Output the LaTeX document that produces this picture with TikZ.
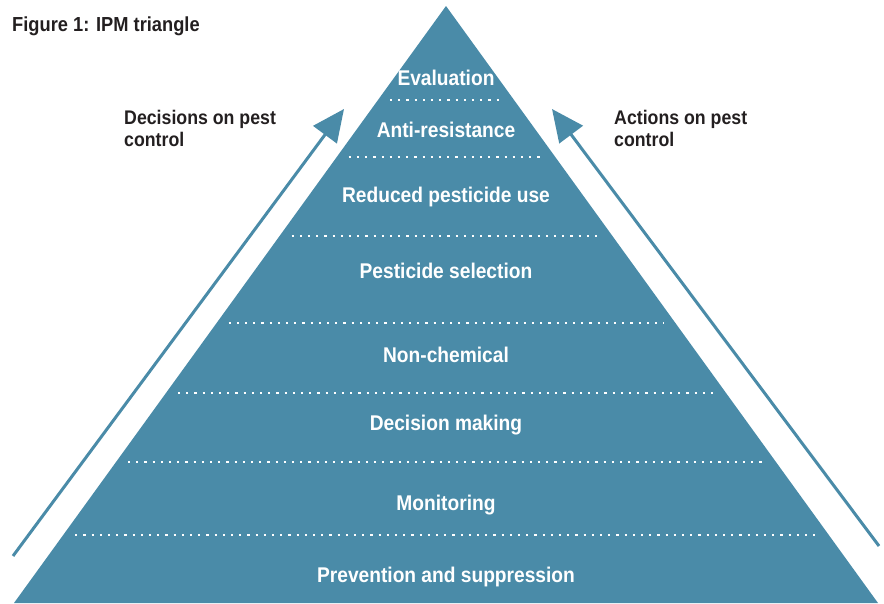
\documentclass[tikz,border=0pt]{standalone}
\usepackage{fontspec}
\setmainfont{Liberation Sans}[FakeStretch=0.9]
\usetikzlibrary{arrows.meta}
\definecolor{ipmblue}{HTML}{4A8BA8}
\definecolor{ipmtext}{HTML}{231F20}
\tikzset{
  layerlabel/.style={text=white, font=\fontsize{21.3}{23}\selectfont\bfseries, anchor=base, inner sep=0pt},
  sidelabel/.style={text=ipmtext, font=\fontsize{19.7}{22.5}\selectfont\bfseries, align=left, anchor=north west, inner sep=0pt},
  dotline/.style={white, line width=2.2pt, dash pattern=on 2.2pt off 6pt},
  bigarrow/.style={ipmblue, line width=3pt, -{Triangle[length=32pt,width=29pt]}},
}
\begin{document}
\begin{tikzpicture}[x=1pt,y=-1pt]
\useasboundingbox (0,0) rectangle (884,603);
% triangle
\coordinate (apex) at (446,6);
\coordinate (bl) at (14,603);
\coordinate (br) at (878,603);
\fill[ipmblue] (apex) -- (bl) -- (br) -- cycle;
% dotted separators (12px inside the sides)
\foreach \y in {100,157,236,323,393,462,535}{
  \pgfmathsetmacro{\hw}{(\y-6)*0.7236-12}
  \draw[dotline] ({446-\hw},\y) -- ({446+\hw},\y);
}
% layer labels
\node[layerlabel] (l8) at (446,85) {Evaluation};
\node[layerlabel] (l7) at (446,137) {Anti-resistance};
\node[layerlabel] (l6) at (446,202) {Reduced pesticide use};
\node[layerlabel] (l5) at (446,278) {Pesticide selection};
\node[layerlabel] (l4) at (446,362) {Non-chemical};
\node[layerlabel] (l3) at (446,430) {Decision making};
\node[layerlabel] (l2) at (446,510) {Monitoring};
\node[layerlabel] (l1) at (446,582) {Prevention and suppression};
% title
\node[text=ipmtext, font=\fontsize{20.3}{22}\selectfont\bfseries, anchor=base west, inner sep=0pt] (title) at (12,31) {Figure 1: IPM triangle};
% side labels
\node[sidelabel] (dec) at (124,110) {Decisions on pest\\control};
\node[sidelabel] (act) at (614,110) {Actions on pest\\control};
% arrows
\coordinate (la0) at (13,556);
\coordinate (la1) at (344,109);
\coordinate (ra0) at (879,546);
\coordinate (ra1) at (552,109);
\draw[bigarrow] (la0) -- (la1);
\draw[bigarrow] (ra0) -- (ra1);
\end{tikzpicture}
\end{document}
